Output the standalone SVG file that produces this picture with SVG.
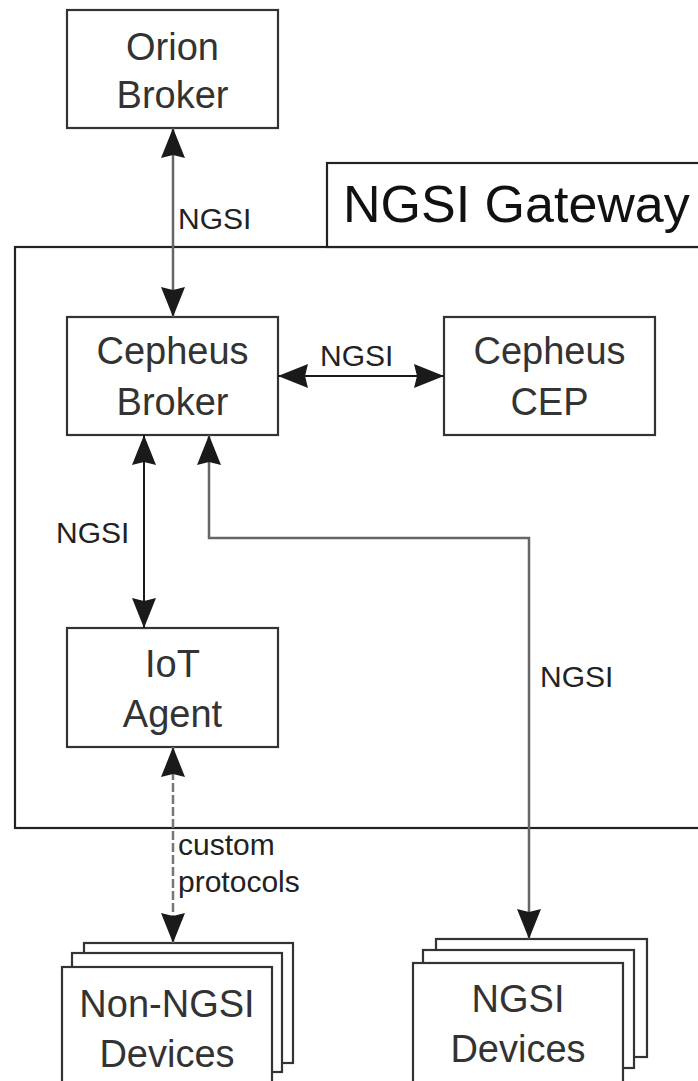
<svg xmlns="http://www.w3.org/2000/svg" width="698" height="1081" viewBox="0 0 698 1081">
<style>
  .box{fill:#fff;stroke:#333;stroke-width:2.2}
  .frame{fill:#fff;stroke:#222;stroke-width:2.2}
  .nt{font-family:"Liberation Sans",Arial,sans-serif;font-size:38px;fill:#333;text-anchor:middle}
  .lbl{font-family:"Liberation Sans",Arial,sans-serif;font-size:30px;fill:#222}
  .title{font-family:"Liberation Sans",Arial,sans-serif;font-size:52px;fill:#111}
  .cb{fill:none;stroke:#1a1a1a;stroke-width:2}
  .cg{fill:none;stroke:#666;stroke-width:2.5}
  .cd{fill:none;stroke:#777;stroke-width:2.5;stroke-dasharray:9 3}
</style>
<defs>
  <marker id="ah" markerUnits="userSpaceOnUse" markerWidth="32" markerHeight="26" viewBox="-31 -13 32 26" refX="0" refY="0" orient="auto-start-reverse">
    <path d="M0,0 L-30,-12 L-27,0 L-30,12 Z" fill="#1a1a1a"/>
  </marker>
</defs>

<g id="gateway">
  <rect class="frame" x="15" y="247" width="700" height="581"/>
  <rect class="frame" x="327" y="163" width="400" height="84"/>
  <text class="title" x="343" y="222">NGSI Gateway</text>
</g>

<g id="orion">
  <rect class="box" x="67" y="10" width="211" height="118"/>
  <text class="nt" x="172.5" y="60">Orion</text>
  <text class="nt" x="172.5" y="108">Broker</text>
</g>

<g id="cepheus-broker">
  <rect class="box" x="67" y="317" width="211" height="118"/>
  <text class="nt" x="172.5" y="364">Cepheus</text>
  <text class="nt" x="172.5" y="415">Broker</text>
</g>

<g id="cepheus-cep">
  <rect class="box" x="444" y="317" width="211" height="118"/>
  <text class="nt" x="549.5" y="364">Cepheus</text>
  <text class="nt" x="549.5" y="415">CEP</text>
</g>

<g id="iot-agent">
  <rect class="box" x="67" y="628" width="211" height="119"/>
  <text class="nt" x="172.5" y="677">IoT</text>
  <text class="nt" x="172.5" y="727">Agent</text>
</g>

<g id="non-ngsi-devices">
  <rect class="box" x="84" y="943" width="209" height="120"/>
  <rect class="box" x="72" y="953" width="210" height="119"/>
  <rect class="box" x="62" y="967" width="210" height="130"/>
  <text class="nt" x="167" y="1017">Non-NGSI</text>
  <text class="nt" x="167" y="1067">Devices</text>
</g>

<g id="ngsi-devices">
  <rect class="box" x="436" y="939" width="211" height="118"/>
  <rect class="box" x="423" y="950" width="211" height="118"/>
  <rect class="box" x="413" y="963" width="210" height="130"/>
  <text class="nt" x="518" y="1012">NGSI</text>
  <text class="nt" x="518" y="1062">Devices</text>
</g>

<g id="connectors">
  <line class="cg" x1="173" y1="128" x2="173" y2="317" marker-start="url(#ah)" marker-end="url(#ah)"/>
  <line class="cb" x1="278" y1="376" x2="444" y2="376" marker-start="url(#ah)" marker-end="url(#ah)"/>
  <line class="cb" x1="144" y1="435" x2="144" y2="628" marker-start="url(#ah)" marker-end="url(#ah)"/>
  <path class="cg" d="M209,435 V538 H529 V939" marker-start="url(#ah)" marker-end="url(#ah)"/>
  <line class="cd" x1="173" y1="747" x2="173" y2="943" marker-start="url(#ah)" marker-end="url(#ah)"/>
  <text class="lbl" x="178" y="229">NGSI</text>
  <text class="lbl" x="320" y="366">NGSI</text>
  <text class="lbl" x="56" y="543">NGSI</text>
  <text class="lbl" x="540" y="687">NGSI</text>
  <text class="lbl" x="178" y="855">custom</text>
  <text class="lbl" x="178" y="892">protocols</text>
</g>
</svg>
